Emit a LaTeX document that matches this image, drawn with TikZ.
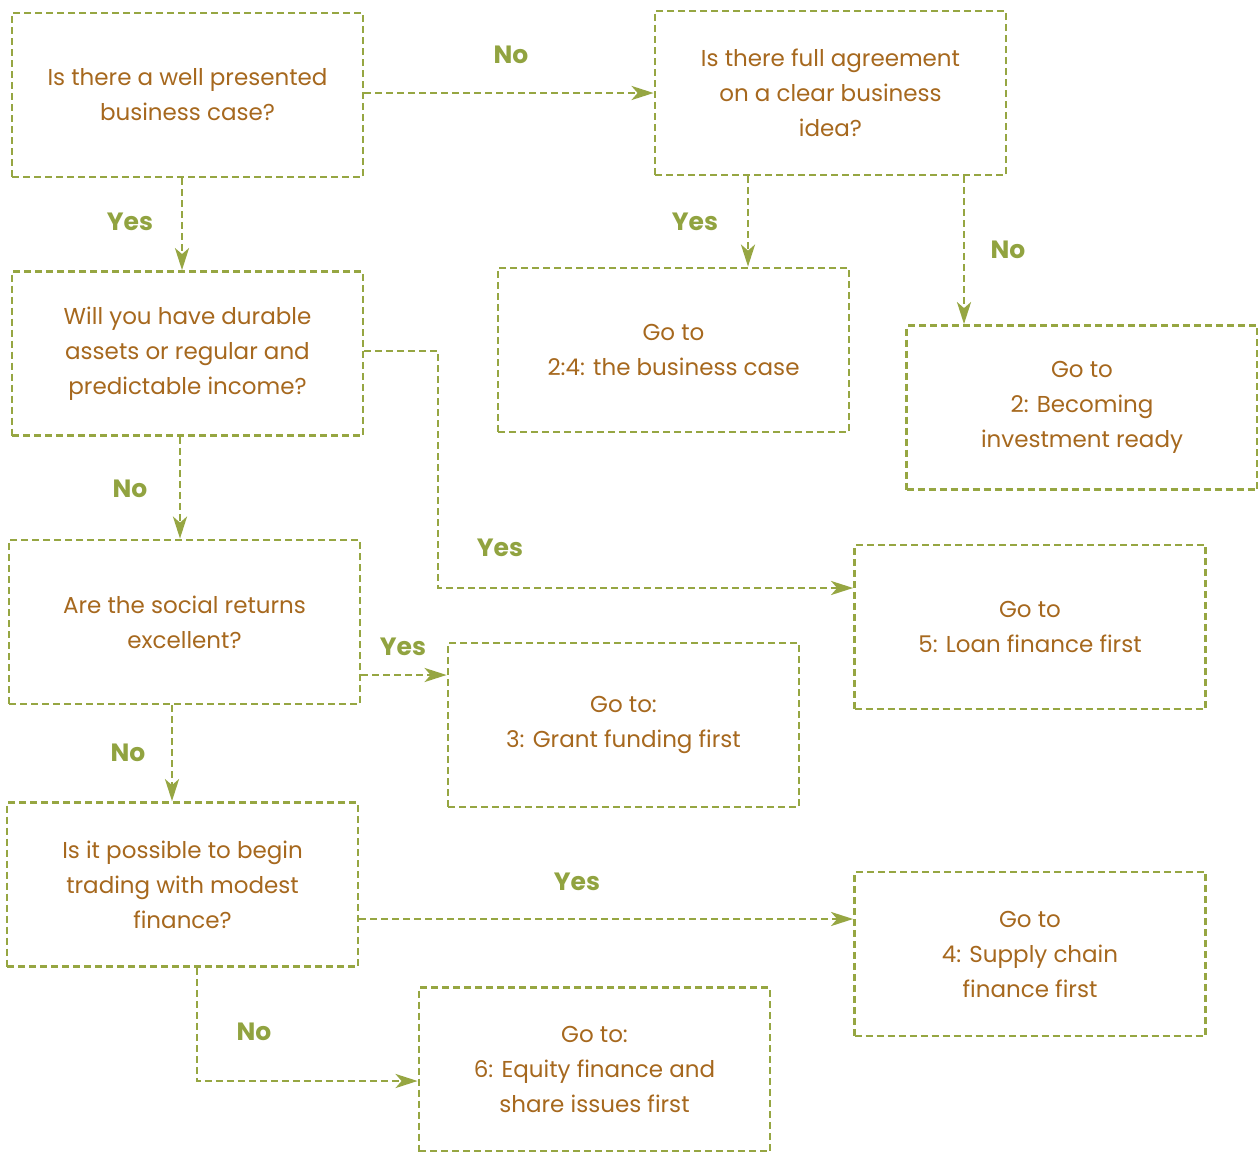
\documentclass[tikz,border=0pt]{standalone}
\usepackage{fontspec}
\setmainfont{Poppins}
\usetikzlibrary{arrows.meta}
\definecolor{boxgreen}{RGB}{150,166,66}
\definecolor{labgreen}{RGB}{145,163,64}
\definecolor{txtbrown}{RGB}{166,104,30}
\tikzset{
  qbox/.style={draw=boxgreen, line width=2.8pt, dash pattern=on 7pt off 4pt,
    minimum width=351pt, minimum height=164pt, align=center, text=txtbrown,
    font=\fontsize{23}{35}\selectfont, inner sep=0pt},
  conn/.style={draw=boxgreen, line width=2.8pt, dash pattern=on 7pt off 4pt,
    -{Stealth[length=22pt,width=14pt,inset=6pt,fill=boxgreen]}},
  lab/.style={text=labgreen, font=\fontsize{25}{28}\selectfont\bfseries, inner sep=0pt}
}
\begin{document}
\begin{tikzpicture}[x=1pt,y=-1pt]
\useasboundingbox (0,0) rectangle (1258,1151);
\node[qbox] (b1) at (187.5,95) {Is there a well presented\\business case?};
\node[qbox] (b2) at (830.5,93) {Is there full agreement\\on a clear business\\idea?};
\node[qbox] (b3) at (187.5,353.5) {Will you have durable\\assets or regular and\\predictable income?};
\node[qbox] (b4) at (673.5,350) {Go to\\2:4: the business case};
\node[qbox] (b5) at (1082,407.5) {Go to\\2: Becoming\\investment ready};
\node[qbox] (b6) at (184.5,622) {Are the social returns\\excellent?};
\node[qbox] (b7) at (1030,627) {Go to\\5: Loan finance first};
\node[qbox] (b8) at (623.5,725) {Go to:\\3: Grant funding first};
\node[qbox] (b9) at (182.5,884.5) {Is it possible to begin\\trading with modest\\finance?};
\node[qbox] (b10) at (1030,954) {Go to\\4: Supply chain\\finance first};
\node[qbox] (b11) at (594.5,1069.5) {Go to:\\6: Equity finance and\\share issues first};

\draw[conn] (b1.east |- 0,93) -- (b2.west |- 0,93);
\draw[conn] (b1.south -| 182,0) -- (b3.north -| 182,0);
\draw[conn] (b2.south -| 748,0) -- (b4.north -| 748,0);
\draw[conn] (b2.south -| 964,0) -- (b5.north -| 964,0);
\draw[conn] (b3.east |- 0,351) -- (438,351) -- (438,588) -- (b7.west |- 0,588);
\draw[conn] (b3.south -| 180,0) -- (b6.north -| 180,0);
\draw[conn] (b6.east |- 0,675) -- (b8.west |- 0,675);
\draw[conn] (b6.south -| 172,0) -- (b9.north -| 172,0);
\draw[conn] (b9.east |- 0,919) -- (b10.west |- 0,919);
\draw[conn] (b9.south -| 197,0) -- (197,1081) -- (b11.west |- 0,1081);

\node[lab] (l1) at (511,55) {No};
\node[lab] (l2) at (130,222) {Yes};
\node[lab] (l3) at (695,222) {Yes};
\node[lab] (l4) at (1008,250) {No};
\node[lab] (l5) at (500,548) {Yes};
\node[lab] (l6) at (130,489) {No};
\node[lab] (l7) at (403,647) {Yes};
\node[lab] (l8) at (128,753) {No};
\node[lab] (l9) at (577,882) {Yes};
\node[lab] (l10) at (254,1032) {No};
\end{tikzpicture}
\end{document}
